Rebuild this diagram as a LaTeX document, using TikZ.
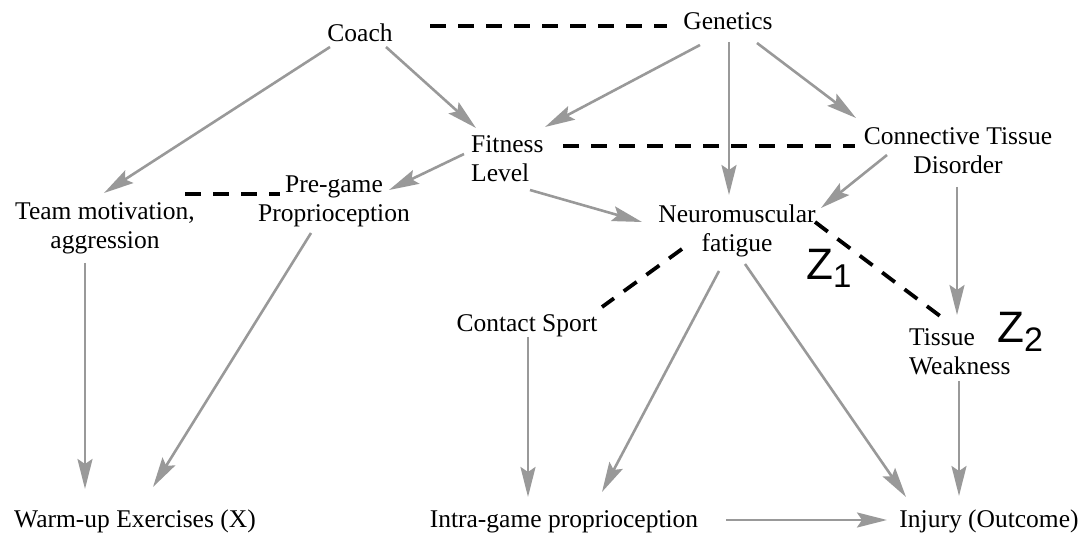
\documentclass[tikz,border=0pt]{standalone}
\usepackage{fontspec}
\setmainfont{Liberation Serif}
\newfontfamily\zfont{Liberation Sans}
\usetikzlibrary{arrows.meta}
\tikzset{
  lbl/.style={inner sep=0pt, font=\fontsize{25.5}{29}\selectfont, align=center, anchor=base},
  lblleft/.style={inner sep=0pt, font=\fontsize{25.5}{29}\selectfont, align=left, anchor=base west},
  zlbl/.style={inner sep=0pt, anchor=base west, font=\zfont\fontsize{44}{44}\selectfont},
  arr/.style={draw=black!40, line width=2.6pt, -{Stealth[length=30pt,width=15pt,inset=5pt,fill=black!40]}},
  conf/.style={draw=black, line width=3.8pt, dash pattern=on 16pt off 12pt}
}
\begin{document}
\begin{tikzpicture}[x=1pt,y=-1pt]
\useasboundingbox (0,0) rectangle (1089,534);
% nodes (base = baseline of the last line)
\node[lbl] (coach) at (360,42) {Coach};
\node[lbl] (gen) at (728,30) {Genetics};
\node[lblleft] (fit) at (471,182) {Fitness\\Level};
\node[lbl] (conn) at (958,174) {Connective Tissue\\Disorder};
\node[lbl] (pre) at (334,222) {Pre-game\\Proprioception};
\node[lbl] (team) at (105,249) {Team motivation,\\aggression};
\node[lbl] (neuro) at (737,252) {Neuromuscular\\fatigue};
\node[lbl] (contact) at (527,331) {Contact Sport};
\node[lblleft] (tissue) at (909,374) {Tissue\\Weakness};
\node[lbl] (warm) at (135,527) {Warm-up Exercises (X)};
\node[lbl] (intra) at (564,527) {Intra-game proprioception};
\node[lbl] (injury) at (989,527) {Injury (Outcome)};
\node[zlbl] (z1) at (806,280) {Z\raisebox{-8pt}{\fontsize{33}{33}\selectfont 1}};
\node[zlbl] (z2) at (997,343) {Z\raisebox{-9pt}{\fontsize{34}{34}\selectfont 2}};
% causal arrows
\draw[arr] ([shift={(-30,5)}]coach.base) -- ([shift={(-1,-56)}]team.base);
\draw[arr] ([shift={(26,5)}]coach.base) -- ([shift={(5,-54)}]fit.base west);
\draw[arr] ([shift={(-7,-28)}]fit.base west) -- ([shift={(55,-32)}]pre.base);
\draw[arr] ([shift={(-28,15)}]gen.base) -- ([shift={(74,-55)}]fit.base west);
\draw[arr] ([shift={(1,12)}]gen.base) -- ([shift={(-8,-57)}]neuro.base);
\draw[arr] ([shift={(29,13)}]gen.base) -- ([shift={(-102,-56)}]conn.base);
\draw[arr] ([shift={(59,8)}]fit.base west) -- ([shift={(-95,-30)}]neuro.base);
\draw[arr] ([shift={(-71,-19)}]conn.base) -- ([shift={(84,-44)}]neuro.base);
\draw[arr] ([shift={(-1,13)}]conn.base) -- ([shift={(48,-59)}]tissue.base west);
\draw[arr] ([shift={(-20,14)}]team.base) -- ([shift={(-50,-38)}]warm.base);
\draw[arr] ([shift={(-23,11)}]pre.base) -- ([shift={(18,-40)}]warm.base);
\draw[arr] ([shift={(1,6)}]contact.base) -- ([shift={(-36,-30)}]intra.base);
\draw[arr] ([shift={(-18,19)}]neuro.base) -- ([shift={(38,-35)}]intra.base);
\draw[arr] ([shift={(8,12)}]neuro.base) -- ([shift={(-83,-30)}]injury.base);
\draw[arr] ([shift={(50,7)}]tissue.base west) -- ([shift={(-30,-31)}]injury.base);
\draw[arr] ([shift={(162,-7)}]intra.base) -- ([shift={(-102,-7)}]injury.base);
% dashed (confounding) links
\draw[conf] ([shift={(70,-16)}]coach.base) -- ([shift={(-61,-4)}]gen.base);
\draw[conf] ([shift={(92,-36)}]fit.base west) -- ([shift={(-103,-28)}]conn.base);
\draw[conf] ([shift={(80,-55)}]team.base) -- ([shift={(-54,-28)}]pre.base);
\draw[conf] ([shift={(78,-30)}]neuro.base) -- ([shift={(39,-52)}]tissue.base west);
\draw[conf] ([shift={(-55,-3)}]neuro.base) -- ([shift={(75,-24)}]contact.base);
\end{tikzpicture}
\end{document}
